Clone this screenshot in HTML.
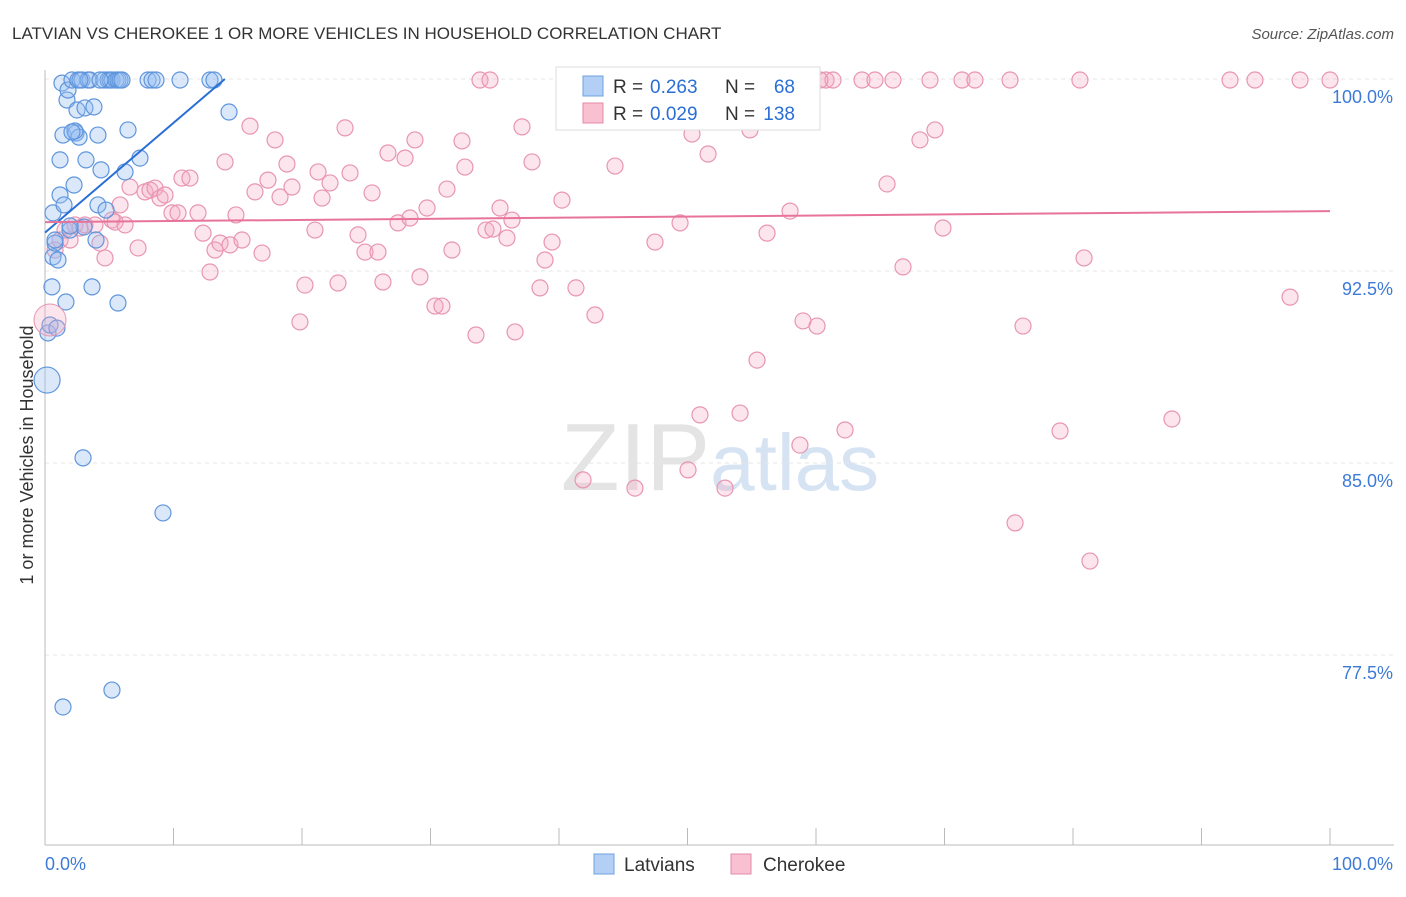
<!DOCTYPE html>
<html><head><meta charset="utf-8"><style>
body{margin:0;background:#fff;font-family:"Liberation Sans",sans-serif}
svg text{font-family:"Liberation Sans",sans-serif}
</style></head><body>
<svg id="chart" width="1406" height="892" xmlns="http://www.w3.org/2000/svg">
<text x="12" y="39" font-size="17" fill="#333">LATVIAN VS CHEROKEE 1 OR MORE VEHICLES IN HOUSEHOLD CORRELATION CHART</text>
<text x="1394" y="39" font-size="15" fill="#555" text-anchor="end" font-style="italic">Source: ZipAtlas.com</text>
<text transform="translate(33,455) rotate(-90)" font-size="18" fill="#333" text-anchor="middle">1 or more Vehicles in Household</text>
<text x="720" y="490" font-size="96" fill="#e4e4e4" text-anchor="middle" font-family="Liberation Serif">ZIP<tspan fill="#d5e3f3" font-family="Liberation Sans" font-size="80">atlas</tspan></text>
<g id="grid"></g><g id="axes"></g><g id="pts"></g><g id="trends"></g>
<g>
<rect x="556" y="67" width="264" height="63" fill="#fff" stroke="#ddd"/>
<rect x="583" y="76" width="20" height="20" fill="#b3cff5" stroke="#6ea0e0"/>
<text x="613" y="93" font-size="19" fill="#333">R =</text>
<text x="650" y="93" font-size="19" fill="#2a6fd6">0.263</text>
<text x="725" y="93" font-size="19" fill="#333">N =</text>
<text x="795" y="93" font-size="19" fill="#2a6fd6" text-anchor="end">68</text>
<rect x="583" y="103" width="20" height="20" fill="#f8c0d0" stroke="#e58aa8"/>
<text x="613" y="120" font-size="19" fill="#333">R =</text>
<text x="650" y="120" font-size="19" fill="#2a6fd6">0.029</text>
<text x="725" y="120" font-size="19" fill="#333">N =</text>
<text x="795" y="120" font-size="19" fill="#2a6fd6" text-anchor="end">138</text>
</g>
<g>
<rect x="594" y="854" width="20" height="20" fill="#b3cff5" stroke="#6ea0e0"/>
<text x="624" y="871" font-size="19" fill="#333">Latvians</text>
<rect x="731" y="854" width="20" height="20" fill="#f8c0d0" stroke="#e58aa8"/>
<text x="763" y="871" font-size="19" fill="#333">Cherokee</text>
</g>
</svg>
<script>
const yTicks=[100,92.5,85,77.5];
const yTickLabels=["100.0%","92.5%","85.0%","77.5%"];
const xTickLabels=["0.0%","100.0%"];
const latvianPx=[[47,380],[48,333],[50,325],[52,287],[53,257],[55,243],[53,213],[57,328],[55,240],[58,260],[60,195],[60,160],[62,83],[63,135],[64,205],[66,302],[67,100],[68,90],[70,230],[72,80],[74,185],[76,133],[77,110],[78,80],[79,137],[82,80],[84,227],[85,108],[86,160],[88,80],[90,80],[92,287],[94,107],[96,240],[98,135],[98,205],[101,170],[104,80],[106,210],[108,80],[110,80],[112,80],[116,80],[118,80],[120,80],[122,80],[118,303],[125,172],[128,130],[140,158],[148,80],[152,80],[156,80],[180,80],[210,80],[214,80],[229,112],[83,458],[163,513],[112,690],[63,707],[80,80],[100,80],[75,131],[70,226],[72,132]];
const cherokeePx=[[55,250],[60,240],[65,230],[70,240],[75,225],[80,228],[85,225],[95,225],[100,243],[105,258],[112,220],[115,222],[120,205],[125,225],[130,187],[138,248],[145,192],[150,190],[155,188],[160,198],[165,195],[172,213],[178,213],[182,178],[190,178],[198,213],[203,233],[210,272],[215,250],[220,243],[225,162],[230,245],[236,215],[242,240],[250,126],[255,192],[262,253],[268,180],[275,140],[280,197],[287,164],[292,187],[300,322],[305,285],[315,230],[318,172],[322,198],[330,183],[338,283],[345,128],[350,173],[358,235],[365,252],[372,193],[378,252],[383,282],[388,153],[398,223],[405,158],[410,218],[415,140],[420,277],[427,208],[435,306],[442,306],[447,189],[452,250],[462,141],[465,167],[476,335],[480,80],[486,230],[493,229],[500,208],[507,238],[512,220],[515,332],[522,127],[532,162],[540,288],[545,260],[552,242],[562,200],[576,288],[583,480],[595,315],[608,120],[615,166],[635,488],[655,242],[660,80],[680,223],[688,470],[692,134],[700,415],[708,154],[713,80],[725,488],[740,413],[750,130],[757,360],[767,233],[790,211],[800,445],[803,321],[817,326],[826,80],[833,80],[845,430],[862,80],[875,80],[887,184],[893,80],[903,267],[920,140],[930,80],[935,130],[943,228],[962,80],[975,80],[1010,80],[1015,523],[1023,326],[1060,431],[1080,80],[1084,258],[1090,561],[1172,419],[1230,80],[1255,80],[1290,297],[1300,80],[1330,80],[490,80],[653,80],[820,80]];
const latvianX=latvianPx.map(p=>+((p[0]-45)/12.85).toFixed(2));
const latvianY=latvianPx.map(p=>+(100-(p[1]-79)/192*7.5).toFixed(2));
const cherokeeX=cherokeePx.map(p=>+((p[0]-45)/12.85).toFixed(2));
const cherokeeY=cherokeePx.map(p=>+(100-(p[1]-79)/192*7.5).toFixed(2));
const latvianTrend=[[0,94.0],[14,100]];
const cherokeeTrend=[[0,94.41],[100,94.84]];
const NS="http://www.w3.org/2000/svg";
const xs=v=>45+v*12.85, ys=v=>79+(100-v)/7.5*192;
function mk(t,a,p){const e=document.createElementNS(NS,t);for(const k in a)e.setAttribute(k,a[k]);document.getElementById(p).appendChild(e);return e;}
yTicks.forEach((t,i)=>{
 const g=mk('line',{x1:45,x2:1394,y1:ys(t),y2:ys(t),stroke:'#e6e6e6','stroke-dasharray':'4,4'},'grid');
 
 
 const l=mk('text',{x:1393,y:ys(t)+24,'font-size':18,fill:'#3d7ad8','text-anchor':'end'},'axes');l.textContent=yTickLabels[i];
 
 
});
mk('line',{x1:45,x2:45,y1:70,y2:845,stroke:'#bbb'},'axes');
mk('line',{x1:45,x2:1394,y1:845,y2:845,stroke:'#bbb'},'axes');
for(let i=0;i<=10;i++){const t=mk('line',{x1:xs(i*10),x2:xs(i*10),y1:828,y2:845,stroke:'#bbb'},'axes');
 
 }
const xl0=mk('text',{x:45,y:870,'font-size':18,fill:'#3d7ad8'},'axes');xl0.textContent=xTickLabels[0];


const xl1=mk('text',{x:1393,y:870,'font-size':18,fill:'#3d7ad8','text-anchor':'end'},'axes');xl1.textContent=xTickLabels[1];


cherokeeX.forEach((x,i)=>{const c=mk('circle',{cx:xs(x),cy:ys(cherokeeY[i]),r:8,fill:'rgba(245,170,195,0.3)',stroke:'#e895b0','stroke-width':1.2},'pts');
 
 });
latvianX.forEach((x,i)=>{const c=mk('circle',{cx:xs(x),cy:ys(latvianY[i]),r:i===0?13:8,fill:'rgba(150,190,240,0.35)',stroke:'#5f95dc','stroke-width':1.2},'pts');
 
 });
const big=mk('circle',{cx:50,cy:320,r:16,fill:'rgba(245,170,195,0.3)',stroke:'#e895b0'},'pts');


const t1=mk('line',{x1:xs(latvianTrend[0][0]),y1:ys(latvianTrend[0][1]),x2:xs(latvianTrend[1][0]),y2:ys(latvianTrend[1][1]),stroke:'#2a6fd6','stroke-width':2},'trends');


const t2=mk('line',{x1:xs(cherokeeTrend[0][0]),y1:ys(cherokeeTrend[0][1]),x2:xs(cherokeeTrend[1][0]),y2:ys(cherokeeTrend[1][1]),stroke:'#e8739a','stroke-width':2},'trends');


</script>
</body></html>
